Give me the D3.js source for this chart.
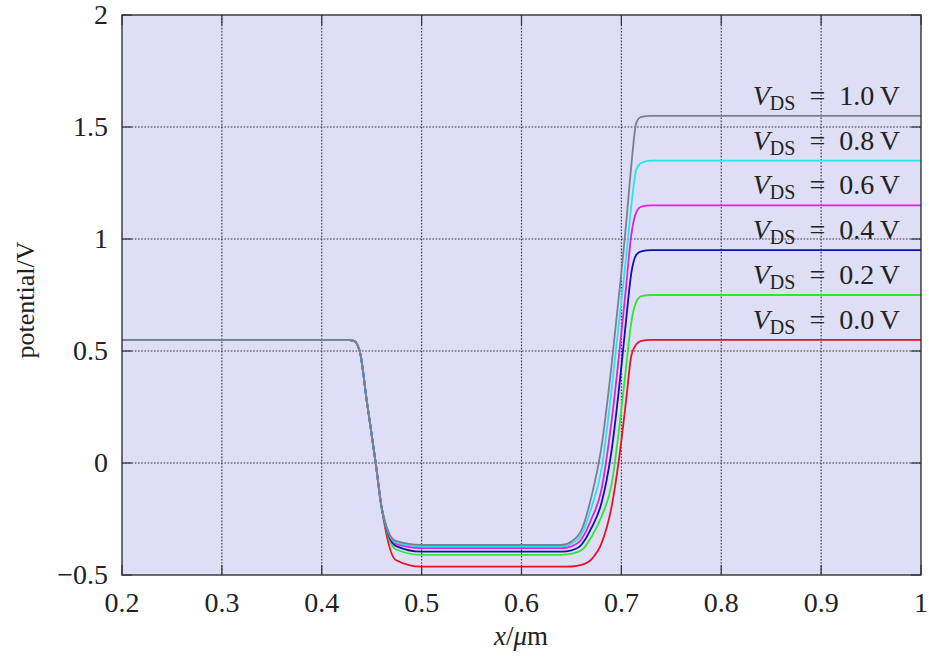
<!DOCTYPE html>
<html><head><meta charset="utf-8">
<script src="https://cdn.jsdelivr.net/npm/d3@7"></script>
<style>body{margin:0;background:#fff}svg{display:block}</style>
</head><body><svg id="c" width="929" height="659" font-family="Liberation Serif" fill="#222"></svg>
<script>
// ---- data ----
const xTicks = [0.2,0.3,0.4,0.5,0.6,0.7,0.8,0.9,1.0];
const xTickLabels = ["0.2","0.3","0.4","0.5","0.6","0.7","0.8","0.9","1"];
const yTicks = [-0.5,0,0.5,1,1.5,2];
const yTickLabels = ["\u22120.5","0","0.5","1","1.5","2"];
const xs = [0.2,0.425,0.432,0.438,0.445,0.454,0.46,0.474,0.5,0.64,0.65,0.66,0.67,0.68,0.69,0.70,0.705,0.71,0.715,0.72,0.73,1.0];
const vds00 = [0.55,0.55,0.545,0.5,0.28,0,-0.2,-0.433,-0.463,-0.463,-0.462,-0.455,-0.43,-0.36,-0.20,0.10,0.29,0.48,0.53,0.545,0.55,0.55];
const vds02 = [0.55,0.55,0.545,0.5,0.28,0,-0.2,-0.385,-0.41,-0.41,-0.405,-0.39,-0.33,-0.24,-0.10,0.24,0.44,0.63,0.72,0.745,0.75,0.75];
const vds04 = [0.55,0.55,0.545,0.5,0.28,0,-0.2,-0.37,-0.396,-0.396,-0.39,-0.365,-0.29,-0.18,0.05,0.43,0.65,0.85,0.93,0.945,0.95,0.95];
const vds06 = [0.55,0.55,0.545,0.5,0.28,0,-0.2,-0.36,-0.38,-0.38,-0.372,-0.34,-0.25,-0.12,0.18,0.58,0.80,1.02,1.12,1.145,1.15,1.15];
const vds08 = [0.55,0.55,0.545,0.5,0.28,0,-0.2,-0.353,-0.372,-0.372,-0.36,-0.32,-0.20,-0.03,0.32,0.72,0.93,1.15,1.31,1.34,1.35,1.35];
const vds10 = [0.55,0.55,0.545,0.5,0.28,0,-0.2,-0.348,-0.366,-0.366,-0.35,-0.30,-0.15,0.07,0.43,0.85,1.08,1.33,1.52,1.545,1.55,1.55];
const seriesNames = ["0.0","0.2","0.4","0.6","0.8","1.0"];
const seriesValues = [vds00,vds02,vds04,vds06,vds08,vds10];
const seriesColors = ["#e8102a","#2ee62e","#1010b0","#e020e0","#22e8e8","#7a7d93"];

// ---- chart ----
const svg = d3.select("#c");
const L=122, R=921, T=15, B=575;
const x = d3.scaleLinear().domain([0.2,1.0]).range([L,R]);
const y = d3.scaleLinear().domain([-0.5,2]).range([B,T]);

svg.append("rect").attr("x",L).attr("y",T).attr("width",R-L).attr("height",B-T).attr("fill","#dedef6");

// grid
const grid = svg.append("g").attr("stroke","#333").attr("stroke-width",1.1).attr("stroke-dasharray","1.6,1.6");
xTicks.slice(1,-1).forEach(t=>grid.append("line").attr("x1",x(t)).attr("x2",x(t)).attr("y1",T).attr("y2",B));
yTicks.slice(1,-1).forEach(t=>grid.append("line").attr("y1",y(t)).attr("y2",y(t)).attr("x1",L).attr("x2",R));

// inward ticks
const tk = svg.append("g").attr("stroke","#333").attr("stroke-width",1.2);
xTicks.forEach(t=>{tk.append("line").attr("x1",x(t)).attr("x2",x(t)).attr("y1",B).attr("y2",B-10);
  tk.append("line").attr("x1",x(t)).attr("x2",x(t)).attr("y1",T).attr("y2",T+10);});
yTicks.forEach(t=>{tk.append("line").attr("y1",y(t)).attr("y2",y(t)).attr("x1",L).attr("x2",L+10);
  tk.append("line").attr("y1",y(t)).attr("y2",y(t)).attr("x1",R).attr("x2",R-10);});

// curves
const line = d3.line().x(d=>x(d[0])).y(d=>y(d[1])).curve(d3.curveMonotoneX);
seriesValues.forEach((vals,i)=>{
  svg.append("path").datum(xs.map((xx,j)=>[xx,vals[j]]))
    .attr("d",line).attr("fill","none").attr("stroke",seriesColors[i]).attr("stroke-width",1.8);
});

// frame
svg.append("rect").attr("x",L).attr("y",T).attr("width",R-L).attr("height",B-T)
  .attr("fill","none").attr("stroke","#333").attr("stroke-width",1.4);

// tick labels
const fs = 28;
xTicks.forEach((t,i)=>svg.append("text").attr("x",x(t)).attr("y",612).attr("text-anchor","middle")
  .attr("font-size",fs).text(xTickLabels[i]));
yTicks.forEach((t,i)=>svg.append("text").attr("x",108).attr("y",y(t)+9).attr("text-anchor","end")
  .attr("font-size",fs).text(yTickLabels[i]));

// axis labels
svg.append("text").attr("transform","translate(34,300) rotate(-90)").attr("text-anchor","middle")
  .attr("font-size",26).text("potential/V");
const xl = svg.append("text").attr("x",521).attr("y",645).attr("text-anchor","middle").attr("font-size",27);
xl.append("tspan").attr("font-style","italic").text("x");
xl.append("tspan").text("/");
xl.append("tspan").attr("font-style","italic").text("\u03bc");
xl.append("tspan").text("m");

// legend labels
seriesValues.forEach((vals,i)=>{
  const top = vals[vals.length-1];
  const t = svg.append("text").attr("x",900).attr("y",y(top)-11).attr("text-anchor","end").attr("font-size",fs);
  t.append("tspan").attr("font-style","italic").text("V");
  t.append("tspan").attr("font-size",20).attr("dy",5).text("DS");
  t.append("tspan").attr("dy",-5).text("\u2002=\u2002"+seriesNames[i]+"\u2009V");
});
</script></body></html>
